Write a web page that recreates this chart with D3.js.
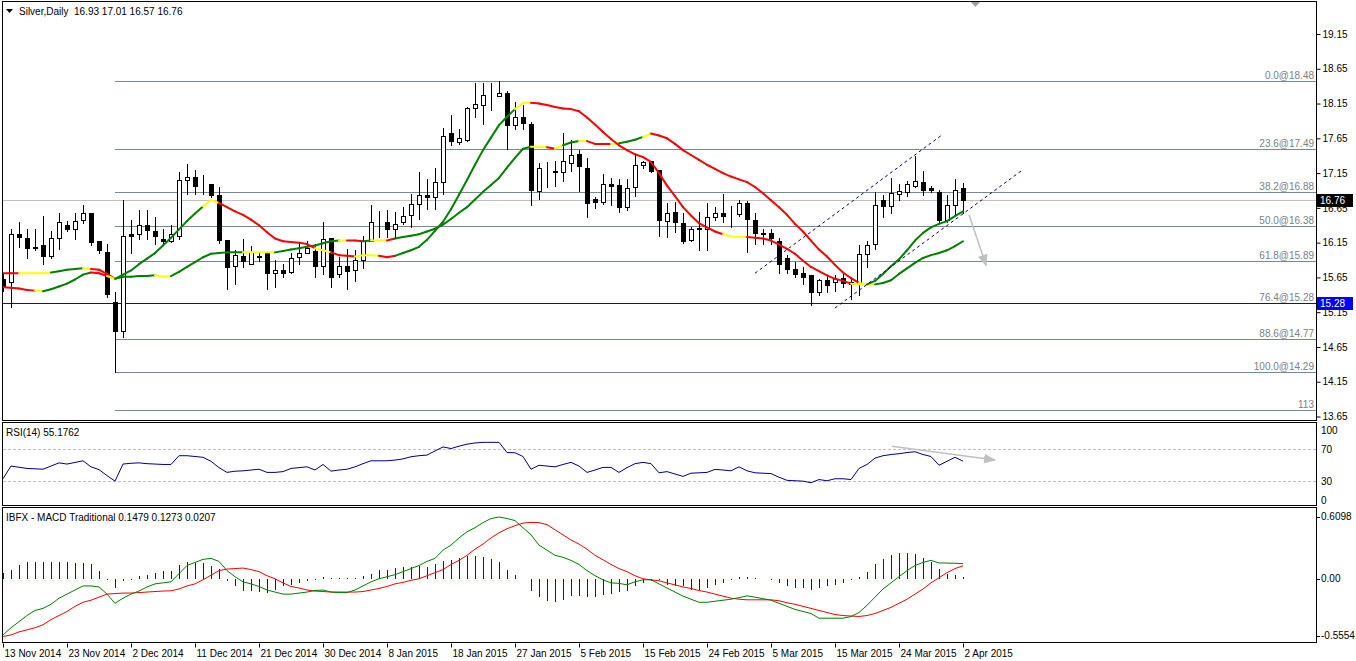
<!DOCTYPE html>
<html>
<head>
<meta charset="utf-8">
<title>Silver, Daily</title>
<script src="https://d3js.org/d3.v7.min.js"></script>
<style>
  body { margin: 0; background: #fff; }
  svg text { font-family: "Liberation Sans", Arial, sans-serif; font-size: 10px; fill: #000; }
  .axis line { stroke: #000; }
</style>
</head>
<body>
<div id="chart-area"></div>
<script>
/*
*    Silver daily - candles, two coloured averages, fibo, RSI and MACD
*/

// Date axis
var tickBars = [0, 8, 16, 24, 32, 40, 48, 56, 64, 72, 80, 88, 96, 104, 112, 120];
var tickLabels = ["13 Nov 2014", "23 Nov 2014", "2 Dec 2014", "11 Dec 2014", "21 Dec 2014",
    "30 Dec 2014", "8 Jan 2015", "18 Jan 2015", "27 Jan 2015", "5 Feb 2015", "15 Feb 2015",
    "24 Feb 2015", "5 Mar 2015", "15 Mar 2015", "24 Mar 2015", "2 Apr 2015"];
var priceTicks = [19.15, 18.65, 18.15, 17.65, 17.15, 16.65, 16.15, 15.65, 15.15, 14.65, 14.15, 13.65];

// Candles, one value per bar
var opens = [
    15.63, 15.58, 16.27, 16.22, 16.09, 16.11, 15.96, 16.22, 16.40, 16.34,
    16.47, 16.57, 16.18, 16.02, 15.30, 14.88, 16.27, 16.27, 16.40, 16.32,
    16.20, 16.18, 16.25, 17.05, 17.09, 16.98, 16.99, 16.83, 16.19, 15.82,
    15.96, 15.85, 15.96, 16.01, 15.71, 15.75, 15.73, 15.94, 16.00, 16.03,
    15.82, 16.22, 15.70, 15.81, 15.75, 15.90, 16.18, 16.44, 16.44, 16.35,
    16.44, 16.55, 16.70, 16.83, 16.80, 17.02, 17.73, 17.60, 17.63, 18.08,
    18.13, 18.27, 18.26, 18.30, 17.84, 17.95, 17.86, 16.89, 17.16, 17.18,
    17.17, 17.30, 17.42, 17.23, 16.78, 16.73, 16.99, 16.98, 16.66, 16.95,
    17.26, 17.32, 17.19, 16.46, 16.59, 16.43, 16.19, 16.34, 16.35, 16.52,
    16.57, 16.53, 16.56, 16.72, 16.48, 16.29, 16.29, 16.18, 15.93, 15.77,
    15.71, 15.68, 15.44, 15.61, 15.58, 15.64, 15.55, 15.56, 15.98, 16.13,
    16.77, 16.67, 16.85, 16.88, 16.97, 17.02, 16.94, 16.88, 16.48, 16.69,
    16.93];
var highs = [
    15.70, 16.35, 16.45, 16.35, 16.35, 16.53, 16.32, 16.58, 16.46, 16.57,
    16.69, 16.58, 16.18, 16.13, 15.44, 16.76, 16.48, 16.62, 16.62, 16.52,
    16.34, 16.41, 17.17, 17.28, 17.20, 17.12, 16.99, 16.95, 16.19, 16.05,
    16.20, 16.10, 16.01, 16.01, 15.90, 15.85, 16.00, 16.16, 16.18, 16.13,
    16.45, 16.22, 15.94, 16.06, 16.04, 16.25, 16.69, 16.61, 16.62, 16.59,
    16.66, 16.85, 17.17, 17.06, 17.23, 17.80, 17.98, 17.78, 18.10, 18.45,
    18.45, 18.45, 18.48, 18.33, 18.17, 18.13, 17.89, 17.30, 17.31, 17.33,
    17.72, 17.62, 17.48, 17.36, 16.80, 17.14, 17.08, 17.07, 17.07, 17.41,
    17.33, 17.33, 17.20, 16.72, 16.73, 16.57, 16.37, 16.59, 16.72, 16.66,
    16.85, 16.67, 16.77, 16.75, 16.57, 16.35, 16.35, 16.21, 15.97, 15.87,
    15.80, 15.68, 15.62, 15.68, 15.68, 15.73, 15.63, 16.11, 16.18, 16.88,
    16.83, 17.08, 17.00, 17.04, 17.39, 17.18, 16.97, 16.91, 16.83, 17.07,
    17.01];
var lows = [
    15.45, 15.22, 16.09, 15.93, 16.05, 15.84, 15.93, 16.06, 16.32, 16.20,
    16.43, 16.12, 16.00, 15.37, 14.29, 14.79, 16.00, 16.20, 16.20, 16.13,
    16.14, 16.16, 16.20, 16.85, 16.85, 16.85, 16.81, 16.15, 15.48, 15.56,
    15.80, 15.84, 15.88, 15.48, 15.51, 15.66, 15.72, 15.85, 16.00, 15.66,
    15.70, 15.51, 15.65, 15.48, 15.60, 15.79, 16.18, 16.23, 16.23, 16.22,
    16.42, 16.37, 16.49, 16.64, 16.64, 16.85, 17.55, 17.57, 17.61, 17.96,
    17.86, 18.05, 18.26, 17.49, 17.78, 17.79, 16.69, 16.78, 16.95, 16.96,
    17.04, 17.18, 16.89, 16.52, 16.65, 16.70, 16.69, 16.59, 16.62, 16.82,
    17.23, 17.16, 16.25, 16.23, 16.30, 16.14, 16.17, 16.04, 16.04, 16.47,
    16.45, 16.37, 16.53, 16.01, 16.13, 16.13, 16.13, 15.71, 15.71, 15.66,
    15.56, 15.25, 15.40, 15.44, 15.46, 15.51, 15.34, 15.39, 15.80, 16.06,
    16.52, 16.57, 16.77, 16.82, 16.95, 16.83, 16.88, 16.45, 16.45, 16.54,
    16.57];
var closes = [
    15.51, 16.27, 16.23, 16.07, 16.08, 15.96, 16.22, 16.44, 16.35, 16.46,
    16.57, 16.16, 16.04, 15.41, 14.88, 16.25, 16.24, 16.40, 16.33, 16.25,
    16.18, 16.28, 17.05, 17.10, 16.97, 16.98, 16.84, 16.19, 15.80, 15.97,
    15.88, 16.01, 15.94, 15.71, 15.76, 15.71, 15.93, 16.00, 16.07, 15.82,
    16.20, 15.65, 15.81, 15.74, 15.90, 16.18, 16.44, 16.45, 16.34, 16.42,
    16.54, 16.71, 16.83, 16.80, 17.02, 17.68, 17.61, 17.66, 18.09, 18.14,
    18.27, 18.28, 18.30, 17.84, 17.95, 17.87, 16.91, 17.23, 17.17, 17.16,
    17.32, 17.41, 17.25, 16.72, 16.73, 16.99, 16.97, 16.66, 16.94, 17.26,
    17.31, 17.18, 16.47, 16.57, 16.45, 16.17, 16.34, 16.36, 16.52, 16.57,
    16.53, 16.54, 16.72, 16.49, 16.29, 16.28, 16.21, 15.85, 15.77, 15.70,
    15.66, 15.44, 15.61, 15.54, 15.63, 15.57, 15.58, 15.98, 16.12, 16.69,
    16.67, 16.86, 16.89, 16.99, 17.04, 16.91, 16.90, 16.47, 16.69, 16.91,
    16.76];

// Two averages; colour letter per bar paints the piece ending at that bar
var fastMA = [
    15.51, 15.50, 15.49, 15.47, 15.46, 15.45, 15.48, 15.52, 15.56, 15.62,
    15.69, 15.72, 15.71, 15.67, 15.63, 15.69, 15.75, 15.84, 15.92, 16.00,
    16.11, 16.22, 16.34, 16.46, 16.57, 16.67, 16.76, 16.72, 16.66, 16.60,
    16.55, 16.48, 16.40, 16.30, 16.21, 16.17, 16.16, 16.15, 16.13, 16.07,
    16.04, 16.01, 15.97, 15.96, 15.95, 15.97, 15.97, 15.96, 15.94, 15.96,
    16.00, 16.04, 16.09, 16.19, 16.32, 16.45, 16.63, 16.84, 17.05, 17.27,
    17.48, 17.66, 17.84, 17.96, 18.07, 18.16, 18.16, 18.15, 18.13, 18.10,
    18.08, 18.07, 18.04, 17.95, 17.85, 17.74, 17.64, 17.55, 17.48, 17.42,
    17.38, 17.31, 17.15, 16.97, 16.82, 16.66, 16.54, 16.43, 16.37, 16.31,
    16.27, 16.24, 16.23, 16.23, 16.22, 16.21, 16.18, 16.12, 16.06, 15.99,
    15.89, 15.80, 15.74, 15.68, 15.63, 15.60, 15.56, 15.55, 15.55, 15.60,
    15.70, 15.81, 15.91, 16.04, 16.18, 16.29, 16.37, 16.42, 16.46, 16.53,
    16.60];
var fastColors = "rrrrr" + "y" + "gggggg" + "rr" + "y" + "ggggggggggg" + "yy" +
    "rrrrrrrrrrrr" + "yy" + "rrr" + "yyy" + "rr" + "ggggggggggggggg" + "yy" +
    "rrrrrrrrrrrrrrrrrrrrrrrr" + "yyy" + "rrrrrrrrrrrrr" + "yy" + "gggggggggggg";

var slowMA = [
    15.71, 15.71, 15.71, 15.71, 15.71, 15.71, 15.72, 15.74, 15.76, 15.77,
    15.78, 15.77, 15.76, 15.70, 15.63, 15.66, 15.66, 15.67, 15.67, 15.68,
    15.66, 15.67, 15.73, 15.80, 15.87, 15.94, 15.99, 16.00, 16.01, 16.01,
    16.01, 16.01, 16.01, 16.01, 16.01, 16.03, 16.05, 16.07, 16.09, 16.11,
    16.14, 16.17, 16.18, 16.18, 16.18, 16.17, 16.18, 16.18, 16.18, 16.21,
    16.23, 16.25, 16.27, 16.31, 16.35, 16.41, 16.49, 16.58, 16.66, 16.77,
    16.88, 16.98, 17.08, 17.23, 17.37, 17.50, 17.53, 17.53, 17.52, 17.50,
    17.55, 17.59, 17.61, 17.61, 17.57, 17.57, 17.57, 17.58, 17.60, 17.63,
    17.67, 17.72, 17.69, 17.65, 17.57, 17.48, 17.41, 17.34, 17.27, 17.21,
    17.15, 17.10, 17.06, 17.02, 16.95, 16.86, 16.76, 16.66, 16.55, 16.42,
    16.31, 16.18, 16.05, 15.95, 15.83, 15.72, 15.64, 15.57, 15.55, 15.55,
    15.57, 15.61, 15.70, 15.78, 15.86, 15.93, 15.97, 16.00, 16.04, 16.10,
    16.17];
var slowColors = "rrr" + "yyyy" + "gggg" + "y" + "rrr" + "ggggg" + "yy" + "ggggggggg" +
    "yyyy" + "gggggggg" + "y" + "rr" + "g" + "yy" + "r" + "ggggggggggggggggg" + "yy" +
    "r" + "y" + "gg" + "y" + "rrr" + "y" + "ggg" + "y" +
    "rrrrrrrrrrrrrrrrrrrrrrrrrr" + "yy" + "ggggggggggg";

// RSI(14)
var rsiValues = [
    33, 49, 47.5, 46, 45.5, 45, 49, 53, 51.5, 53.5,
    55.6, 48, 44.5, 37, 30, 51.5, 52.5, 53, 52, 51.5,
    51, 51, 62, 62, 61, 60, 55, 47, 41, 42.5,
    43, 44, 45, 41, 41, 42, 46, 47, 48, 44,
    51, 42.6, 44, 45, 48, 52, 55.6, 55.6, 55.6, 56.5,
    58, 60.7, 62, 62.8, 68, 73, 71, 74, 76.5, 78,
    78.8, 78.8, 78.8, 66, 65.7, 61, 45, 50, 49, 48,
    51, 53.6, 49, 41, 44, 47.3, 47.3, 41, 47, 52,
    53.6, 52, 40.5, 42, 39, 36, 40, 40.5, 41, 44.8,
    44, 43, 48, 43, 40.5, 40, 39.5, 35, 31, 30.5,
    30, 28, 32, 30.5, 33, 33, 32, 46, 51, 59,
    62, 63.5, 64.5, 66, 67, 63.5, 61, 50, 55, 60,
    55.18];
var rsiLevels = [70, 30];

// MACD traditional
var macdMain = [
    -0.55, -0.48, -0.42, -0.36, -0.31, -0.29, -0.25, -0.19, -0.15, -0.11,
    -0.07, -0.07, -0.08, -0.15, -0.24, -0.19, -0.15, -0.12, -0.08, -0.05,
    -0.04, -0.03, 0.05, 0.13, 0.16, 0.19, 0.20, 0.17, 0.08, 0.02,
    -0.03, -0.05, -0.075, -0.11, -0.13, -0.15, -0.15, -0.14, -0.13, -0.115,
    -0.11, -0.13, -0.135, -0.135, -0.11, -0.07, -0.03, 0.00, 0.02, 0.04,
    0.07, 0.10, 0.13, 0.17, 0.20, 0.28, 0.33, 0.40, 0.46, 0.50,
    0.55, 0.59, 0.605, 0.59, 0.57, 0.50, 0.43, 0.33, 0.28, 0.23,
    0.21, 0.18, 0.14, 0.08, 0.03, -0.01, -0.04, -0.045, -0.059, -0.03,
    -0.01, -0.01, -0.05, -0.09, -0.13, -0.17, -0.20, -0.23, -0.23, -0.22,
    -0.21, -0.20, -0.185, -0.167, -0.18, -0.195, -0.21, -0.24, -0.27, -0.30,
    -0.32, -0.34, -0.386, -0.386, -0.386, -0.386, -0.37, -0.33, -0.26, -0.18,
    -0.10, -0.04, 0.02, 0.08, 0.13, 0.16, 0.18, 0.155, 0.154, 0.152,
    0.148];
var macdSignal = [
    -0.565, -0.55, -0.52, -0.50, -0.48, -0.45, -0.40, -0.36, -0.32, -0.27,
    -0.23, -0.21, -0.18, -0.15, -0.145, -0.14, -0.14, -0.135, -0.13, -0.125,
    -0.12, -0.118, -0.10, -0.07, -0.05, -0.01, 0.035, 0.08, 0.095, 0.10,
    0.105, 0.09, 0.07, 0.03, 0.00, -0.04, -0.075, -0.09, -0.11, -0.12,
    -0.125, -0.13, -0.13, -0.13, -0.13, -0.125, -0.11, -0.095, -0.075, -0.05,
    -0.035, -0.015, 0.00, 0.03, 0.06, 0.09, 0.14, 0.18, 0.23, 0.29,
    0.34, 0.40, 0.45, 0.49, 0.52, 0.545, 0.552, 0.55, 0.53, 0.48,
    0.43, 0.38, 0.34, 0.29, 0.23, 0.186, 0.14, 0.10, 0.07, 0.03,
    0.00, -0.01, -0.02, -0.04, -0.06, -0.08, -0.095, -0.115, -0.13, -0.15,
    -0.17, -0.19, -0.20, -0.206, -0.206, -0.206, -0.206, -0.215, -0.235, -0.25,
    -0.27, -0.29, -0.31, -0.33, -0.35, -0.36, -0.365, -0.369, -0.36, -0.34,
    -0.31, -0.28, -0.24, -0.20, -0.15, -0.10, -0.04, 0.01, 0.06, 0.10,
    0.127];
var macdHist = [
    0.06, 0.088, 0.137, 0.16, 0.16, 0.16, 0.16, 0.16, 0.16, 0.155,
    0.15, 0.144, 0.078, -0.01, -0.092, -0.02, -0.013, 0.023, 0.039, 0.056,
    0.072, 0.078, 0.137, 0.16, 0.155, 0.155, 0.127, 0.10, -0.026, -0.075,
    -0.124, -0.124, -0.13, -0.14, -0.108, -0.075, -0.059, -0.042, -0.02, -0.01,
    0.013, 0.003, 0.003, 0.007, 0.003, 0.023, 0.05, 0.088, 0.088, 0.105,
    0.114, 0.12, 0.127, 0.12, 0.144, 0.17, 0.186, 0.203, 0.219, 0.219,
    0.209, 0.196, 0.16, 0.088, 0.033, 0.0, -0.124, -0.183, -0.216, -0.229,
    -0.206, -0.173, -0.173, -0.183, -0.183, -0.155, -0.147, -0.13, -0.124, -0.075,
    -0.04, -0.02, -0.015, -0.059, -0.075, -0.075, -0.108, -0.108, -0.092, -0.059,
    -0.042, -0.01, 0.016, 0.016, 0.003, 0.0, -0.016, -0.042, -0.075, -0.092,
    -0.092, -0.108, -0.092, -0.069, -0.059, -0.042, -0.016, 0.016, 0.07, 0.147,
    0.193, 0.235, 0.25, 0.25, 0.245, 0.2, 0.16, 0.095, 0.05, 0.04,
    0.0207];

// Fibonacci from the 30 Nov low to the January high
var fiboHigh = 18.48, fiboLow = 14.29, fiboStartBar = 14;
var fiboLevels = [0, 23.6, 38.2, 50, 61.8, 76.4, 88.6, 100, 113];
var fiboLabels = ["0.0@18.48", "23.6@17.49", "38.2@16.88", "50.0@16.38", "61.8@15.89",
    "76.4@15.28", "88.6@14.77", "100.0@14.29", "113"];

var lastPrice = 16.76, levelPrice = 15.28;

// Hand drawn objects: [bar1, value1, bar2, value2]
var channelLines = [[94, 15.71, 117.5, 17.71], [104, 15.21, 127.5, 17.20]];
var priceArrow = [120.75, 16.55, 122.9, 15.82];
var rsiArrow = [111.1, 74, 124, 56.5];

// ---------------------------------------------------------------

var left = 3, right = 1316;
var mainTop = 2, mainBottom = 421, rsiTop = 423, rsiBottom = 506, macdTop = 508, macdBottom = 643;
var levelBlue = "#0000ff";

var svg = d3.select("#chart-area").append("svg")
    .attr("width", 1356)
    .attr("height", 661);

// Scales
var x = d3.scaleLinear().domain([0, 120]).range([3, 963]);
var yPrice = d3.scaleLinear().domain([13.65, 19.15]).range([416.5, 34]);
var yRsi = d3.scaleLinear().domain([0, 100]).range([505, 425.5]);
var yMacd = d3.scaleLinear().domain([-0.5554, 0.6098]).range([635.5, 516.5]);

var px = function(v) { return Math.round(v) + 0.5; };

// Clip paths for each pane
var defs = svg.append("defs");
[["clip-main", mainTop, mainBottom], ["clip-rsi", rsiTop, rsiBottom], ["clip-macd", macdTop, macdBottom]]
    .forEach(function(c) {
        defs.append("clipPath").attr("id", c[0]).append("rect")
            .attr("x", left).attr("y", c[1] + 1)
            .attr("width", right - left).attr("height", c[2] - c[1] - 1);
    });

defs.append("marker")
    .attr("id", "arrow-head")
    .attr("markerUnits", "userSpaceOnUse")
    .attr("markerWidth", 12).attr("markerHeight", 10)
    .attr("refX", 11).attr("refY", 5)
    .attr("orient", "auto")
    .append("path")
    .attr("d", "M0,0 L12,5 L0,10 Z")
    .attr("fill", "#c0c0c0");

var gMain = svg.append("g").attr("clip-path", "url(#clip-main)");
var gRsi = svg.append("g").attr("clip-path", "url(#clip-rsi)");
var gMacd = svg.append("g").attr("clip-path", "url(#clip-macd)");

// Fibo levels
var fiboRange = fiboHigh - fiboLow;
gMain.selectAll(".fibo")
    .data(fiboLevels)
    .enter()
    .append("line")
    .attr("class", "fibo")
    .attr("x1", x(fiboStartBar))
    .attr("x2", right)
    .attr("y1", function(d) { return px(yPrice(fiboHigh - fiboRange * d / 100)); })
    .attr("y2", function(d) { return px(yPrice(fiboHigh - fiboRange * d / 100)); })
    .attr("stroke", "#778899");

gMain.selectAll(".fibo-label")
    .data(fiboLevels)
    .enter()
    .append("text")
    .attr("class", "fibo-label")
    .attr("x", right - 2)
    .attr("y", function(d) { return Math.round(yPrice(fiboHigh - fiboRange * d / 100)) - 2; })
    .attr("text-anchor", "end")
    .style("fill", "#808080")
    .text(function(d, i) { return fiboLabels[i]; });

// Current price and support level
gMain.append("line")
    .attr("x1", left).attr("x2", right)
    .attr("y1", px(yPrice(lastPrice))).attr("y2", px(yPrice(lastPrice)))
    .attr("stroke", "#c0c0c0");

gMain.append("line")
    .attr("x1", left).attr("x2", right)
    .attr("y1", px(yPrice(levelPrice))).attr("y2", px(yPrice(levelPrice)))
    .attr("stroke", levelBlue);

// Candles
var bars = d3.range(opens.length);

gMain.selectAll(".wick")
    .data(bars)
    .enter()
    .append("line")
    .attr("class", "wick")
    .attr("x1", function(i) { return px(x(i)); })
    .attr("x2", function(i) { return px(x(i)); })
    .attr("y1", function(i) { return Math.round(yPrice(highs[i])); })
    .attr("y2", function(i) { return Math.round(yPrice(lows[i])) + 1; })
    .attr("stroke", "#000");

gMain.selectAll(".body")
    .data(bars)
    .enter()
    .append("rect")
    .attr("class", "body")
    .attr("x", function(i) { return Math.round(x(i)) - 1.5; })
    .attr("y", function(i) { return px(yPrice(Math.max(opens[i], closes[i]))); })
    .attr("width", 4)
    .attr("height", function(i) {
        return Math.round(yPrice(Math.min(opens[i], closes[i]))) - Math.round(yPrice(Math.max(opens[i], closes[i])));
    })
    .attr("fill", function(i) { return closes[i] >= opens[i] ? "#fff" : "#000"; })
    .attr("stroke", "#000");

// Averages as coloured pieces
var colorMap = { g: "#008000", y: "#ffff00", r: "#ff0000" };

function drawAverage(values, colors, cls) {
    gMain.selectAll("." + cls)
        .data(d3.range(1, values.length))
        .enter()
        .append("line")
        .attr("class", cls)
        .attr("x1", function(i) { return x(i - 1); })
        .attr("y1", function(i) { return yPrice(values[i - 1]); })
        .attr("x2", function(i) { return x(i); })
        .attr("y2", function(i) { return yPrice(values[i]); })
        .attr("stroke", function(i) { return colorMap[colors[i]]; })
        .attr("stroke-width", 2)
        .attr("stroke-linecap", "round");
}
drawAverage(slowMA, slowColors, "slow-ma");
drawAverage(fastMA, fastColors, "fast-ma");

// Channel lines
gMain.selectAll(".channel")
    .data(channelLines)
    .enter()
    .append("line")
    .attr("class", "channel")
    .attr("x1", function(d) { return x(d[0]); })
    .attr("y1", function(d) { return yPrice(d[1]); })
    .attr("x2", function(d) { return x(d[2]); })
    .attr("y2", function(d) { return yPrice(d[3]); })
    .attr("stroke", "#000080")
    .attr("stroke-dasharray", "3,3");

gMain.append("line")
    .attr("x1", x(priceArrow[0])).attr("y1", yPrice(priceArrow[1]))
    .attr("x2", x(priceArrow[2])).attr("y2", yPrice(priceArrow[3]))
    .attr("stroke", "#c0c0c0")
    .attr("stroke-width", 1.5)
    .attr("marker-end", "url(#arrow-head)");

// Shift marker at the top
svg.append("path")
    .attr("d", "M971,2 L980,2 L975.5,7 Z")
    .attr("fill", "#a0a0a0");

// RSI pane
gRsi.selectAll(".rsi-level")
    .data(rsiLevels)
    .enter()
    .append("line")
    .attr("class", "rsi-level")
    .attr("x1", left).attr("x2", right)
    .attr("y1", function(d) { return px(yRsi(d)); })
    .attr("y2", function(d) { return px(yRsi(d)); })
    .attr("stroke", "#c0c0c0")
    .attr("stroke-dasharray", "3,2");

var rsiLine = d3.line()
    .x(function(d, i) { return x(i); })
    .y(function(d) { return yRsi(d); });

gRsi.append("path")
    .attr("d", rsiLine(rsiValues))
    .attr("fill", "none")
    .attr("stroke", "#00008b");

gRsi.append("line")
    .attr("x1", x(rsiArrow[0])).attr("y1", yRsi(rsiArrow[1]))
    .attr("x2", x(rsiArrow[2])).attr("y2", yRsi(rsiArrow[3]))
    .attr("stroke", "#c0c0c0")
    .attr("stroke-width", 1.5)
    .attr("marker-end", "url(#arrow-head)");

// MACD pane
gMacd.selectAll(".hist")
    .data(bars)
    .enter()
    .append("line")
    .attr("class", "hist")
    .attr("x1", function(i) { return px(x(i)); })
    .attr("x2", function(i) { return px(x(i)); })
    .attr("y1", Math.round(yMacd(0)))
    .attr("y2", function(i) { return Math.round(yMacd(macdHist[i])); })
    .attr("stroke", "#0000ff");

var macdLine = d3.line()
    .x(function(d, i) { return x(i); })
    .y(function(d) { return yMacd(d); });

gMacd.append("path")
    .attr("d", macdLine(macdSignal))
    .attr("fill", "none")
    .attr("stroke", "#ff0000");

gMacd.append("path")
    .attr("d", macdLine(macdMain))
    .attr("fill", "none")
    .attr("stroke", "#008000");

// Pane borders
[[mainTop, mainBottom], [rsiTop, rsiBottom], [macdTop, macdBottom]].forEach(function(p) {
    svg.append("rect")
        .attr("x", left - 0.5).attr("y", p[0] - 0.5)
        .attr("width", right - left + 1).attr("height", p[1] - p[0])
        .attr("fill", "none")
        .attr("stroke", "#000");
});

// Price axis
var priceAxis = d3.axisRight(yPrice)
    .tickValues(priceTicks)
    .tickSize(4)
    .tickPadding(2)
    .tickFormat(d3.format(".2f"));

svg.append("g")
    .attr("class", "axis")
    .attr("transform", "translate(" + (right + 0.5) + ",0)")
    .call(priceAxis)
    .call(function(g) { g.select(".domain").remove(); });

// Price tags
[[lastPrice, "#000"], [levelPrice, levelBlue]].forEach(function(t) {
    var ty = Math.round(yPrice(t[0]));
    svg.append("rect")
        .attr("x", right + 1).attr("y", ty - 6)
        .attr("width", 36).attr("height", 13)
        .attr("fill", t[1]);
    svg.append("text")
        .attr("x", right + 4).attr("y", ty)
        .attr("dy", "0.35em")
        .style("fill", "#fff")
        .text(d3.format(".2f")(t[0]));
});

// RSI and MACD scale labels
var sideLabels = [
    ["100", yRsi(100) + 5], ["70", yRsi(70)], ["30", yRsi(30)], ["0", yRsi(0) - 5],
    ["0.6098", yMacd(0.6098)], ["0.00", yMacd(0)], ["-0.5554", yMacd(-0.5554)]
];
svg.selectAll(".side-label")
    .data(sideLabels)
    .enter()
    .append("text")
    .attr("class", "side-label")
    .attr("x", right + 5)
    .attr("y", function(d) { return d[1]; })
    .attr("dy", "0.35em")
    .text(function(d) { return d[0]; });

svg.selectAll(".side-tick")
    .data([0.6098, 0, -0.5554])
    .enter()
    .append("line")
    .attr("class", "side-tick")
    .attr("x1", right).attr("x2", right + 4)
    .attr("y1", function(d) { return px(yMacd(d)); })
    .attr("y2", function(d) { return px(yMacd(d)); })
    .attr("stroke", "#000");

// Date axis
var dateAxis = d3.axisBottom(x)
    .tickValues(tickBars)
    .tickSize(4)
    .tickPadding(2)
    .tickFormat(function(d, i) { return tickLabels[i]; });

svg.append("g")
    .attr("class", "axis")
    .attr("transform", "translate(0," + (macdBottom + 0.5) + ")")
    .call(dateAxis)
    .call(function(g) { g.select(".domain").remove(); })
    .selectAll("text")
    .attr("text-anchor", "start")
    .attr("x", 1);

// Titles
svg.append("path")
    .attr("d", "M6,9 L13,9 L9.5,13 Z")
    .attr("fill", "#000");

svg.append("text")
    .attr("x", 19).attr("y", 15)
    .text("Silver,Daily  16.93 17.01 16.57 16.76")
    .attr("xml:space", "preserve")
    .style("white-space", "pre");

svg.append("text")
    .attr("x", 6).attr("y", 436)
    .text("RSI(14) 55.1762");

svg.append("text")
    .attr("x", 6).attr("y", 521)
    .text("IBFX - MACD Traditional 0.1479 0.1273 0.0207");
</script>
</body>
</html>
